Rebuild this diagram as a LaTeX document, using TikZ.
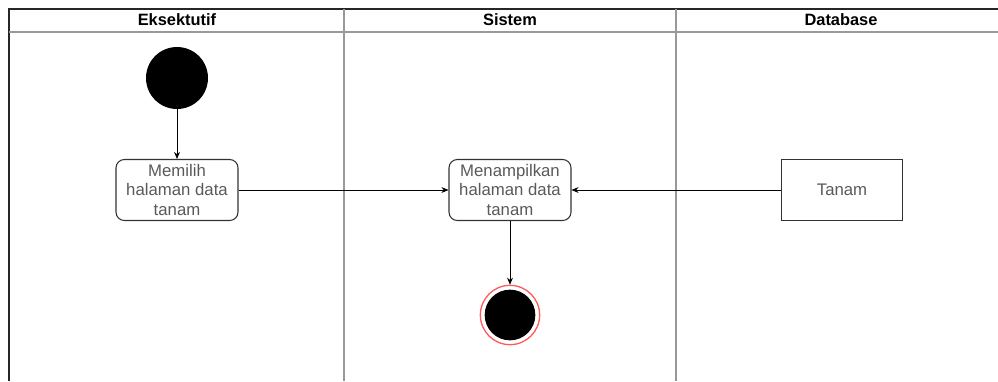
\documentclass[tikz,border=0pt]{standalone}
\usepackage{fontspec}
\setmainfont{Liberation Sans}
\usetikzlibrary{arrows.meta}

\tikzset{
    lane/.style={draw=gray!80, line width=0.9pt},
    lanetitle/.style={font=\bfseries\fontsize{14}{16}\selectfont},
    action/.style={draw=black!80, line width=0.9pt, rounded corners=0.25cm,
        minimum width=3.66cm, minimum height=1.83cm, align=center, text=black!65,
        font=\fontsize{14.3}{16.8}\selectfont, inner sep=0pt},
    store/.style={draw=black!80, line width=0.9pt, minimum width=3.63cm,
        minimum height=1.83cm, text=black!65, font=\fontsize{14.3}{16.8}\selectfont},
    flow/.style={-{Stealth[length=6pt,width=5pt]}, line width=0.6pt}
}

\begin{document}
\begin{tikzpicture}[x=0.03cm, y=-0.03cm]
    \useasboundingbox (0,0) rectangle (998,381);

    % swimlanes
    \draw[line width=1.6pt, black!85] (9,381) -- (9,9) -- (998,9);
    \draw[lane] (9,32) -- (998,32);
    \foreach \x in {344, 676} {
        \draw[lane] (\x,9) -- (\x,381);
    }
    \node[lanetitle] (t1) at (177,20) {Eksektutif};
    \node[lanetitle] (t2) at (510,20) {Sistem};
    \node[lanetitle] (t3) at (841,20) {Database};

    % start and end
    \node[circle, fill=black, minimum size=1.86cm] (start) at (177,78) {};
    \node[circle, draw=red!65, line width=1.1pt, fill=white, minimum size=1.78cm] (end) at (510,315) {};
    \node[circle, fill=black, minimum size=1.52cm] (endin) at (510,315) {};

    % activities
    \node[action] (pilih) at (177,190) {Memilih\\halaman data\\tanam};
    \node[action] (tampil) at (510,190) {Menampilkan\\halaman data\\tanam};
    \node[store] (tanam) at (842,190) {Tanam};

    \draw[flow] (start) -- (pilih);
    \draw[flow] (pilih) -- (tampil);
    \draw[flow] (tanam) -- (tampil);
    \draw[flow] (tampil) -- (end);
\end{tikzpicture}
\end{document}
